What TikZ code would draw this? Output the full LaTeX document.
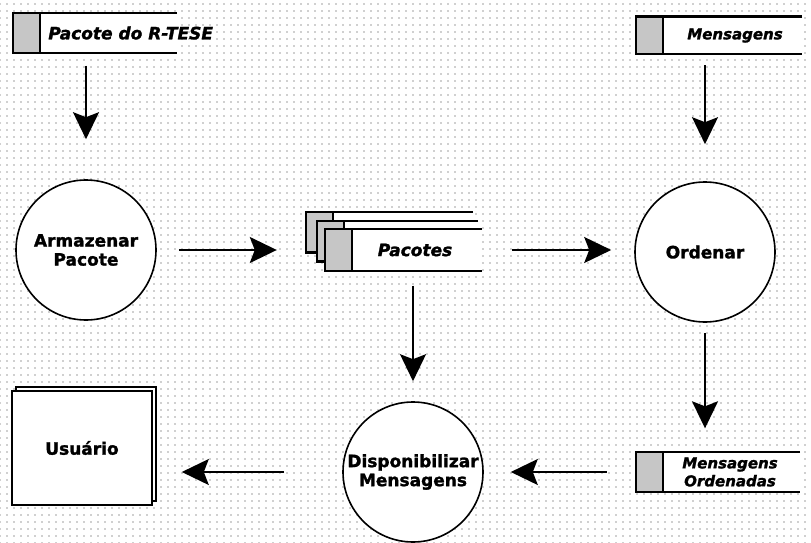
\documentclass[tikz,border=0pt]{standalone}
\usepackage{fontspec}
\setmainfont[BoldFeatures={FakeBold=1.5},BoldItalicFeatures={FakeBold=1.5}]{DejaVu Sans}
\usetikzlibrary{arrows.meta,patterns.meta,shadows}

\begin{document}
\begin{tikzpicture}[
    x=1pt, y=-1pt,
    font=\bfseries\fontsize{17}{19}\selectfont,
    proc/.style={
        circle,
        draw=black,
        line width=1.6pt,
        fill=white,
        minimum size=140pt,
        inner sep=0pt,
        align=center
    },
    store/.style={
        rectangle,
        inner sep=0pt,
        minimum height=41pt,
        fill=white,
        path picture={
            \fill[gray!45] (path picture bounding box.north west)
                rectangle ([xshift=28pt]path picture bounding box.south west);
            \draw[line width=1.6pt] ([xshift=28pt]path picture bounding box.north west)
                -- ([xshift=28pt]path picture bounding box.south west);
            \draw[line width=3.2pt] (path picture bounding box.north east)
                -- (path picture bounding box.north west)
                -- (path picture bounding box.south west)
                -- (path picture bounding box.south east);
        }
    },
    ext/.style={
        rectangle,
        draw=black,
        line width=1.6pt,
        fill=white,
        minimum width=140pt,
        minimum height=114pt,
        copy shadow={shadow xshift=4pt, shadow yshift=4pt}
    },
    lbl/.style={font=\bfseries\itshape\fontsize{17}{19}\selectfont, align=center},
    small/.style={font=\bfseries\itshape\fontsize{15}{18}\selectfont, align=center},
    arr/.style={-{Stealth[length=27pt,width=26pt,inset=5pt]}, line width=1.8pt}
]

% stippled background
\fill[pattern={Dots[distance=7pt,radius=0.6pt]}, pattern color=black!80]
    (0,0) rectangle (811,543);
\useasboundingbox (0,0) rectangle (811,543);

% data stores
\node[store, minimum width=165pt] (rtbox) at (94.5,33) {};
\node[lbl, anchor=west] (rtxt) at ([xshift=33pt]rtbox.west) {Pacote do R-TESE};

\node[store, minimum width=167pt, minimum height=39pt] (msgbox) at (718.5,35.5) {};
\node[small] (msgtxt) at (735,35.5) {Mensagens};

\node[store, minimum width=165pt] (ordbox) at (717.5,472) {};
\node[small] (ordtxt) at (730,472) {Mensagens\\Ordenadas};

% stacked store
\node[store, minimum width=168pt, minimum height=42pt] (pk1) at (389,232) {};
\node[store, minimum width=162pt, minimum height=42pt] (pk2) at (397,241) {};
\node[store, minimum width=158pt, minimum height=43pt] (pk3) at (403,250) {};
\node[lbl] (pktxt) at (415,250) {Pacotes};

% processes
\node[proc] (armaz) at (86,250) {Armazenar\\Pacote};
\node[proc] (orden) at (705,252) {Ordenar};
\node[proc] (dispo) at (413,472) {Disponibilizar\\Mensagens};

% external entity
\node[ext] (user) at (82,448) {Usuário};

% flows
\draw[arr, shorten <=12pt, shorten >=40pt] (armaz.north |- rtbox.south) -- (armaz.north);
\draw[arr, shorten <=22pt, shorten >=28pt] (armaz.east) -- (armaz.east -| pk1.west);
\draw[arr, shorten <=30pt, shorten >=23pt] (pk3.east) -- (pk3.east -| orden.west);
\draw[arr, shorten <=14pt, shorten >=20pt] (dispo.north |- pk3.south) -- (dispo.north);
\draw[arr, shorten <=10pt, shorten >=37pt] (orden.north |- msgbox.south) -- (orden.north);
\draw[arr, shorten <=10pt, shorten >=23pt] (orden.south) -- (orden.south |- ordbox.north);
\draw[arr, shorten <=28pt, shorten >=27pt] (ordbox.west) -- (ordbox.west -| dispo.east);
\draw[arr, shorten <=58pt, shorten >=29pt] (dispo.west) -- (dispo.west -| user.east);

\end{tikzpicture}
\end{document}
